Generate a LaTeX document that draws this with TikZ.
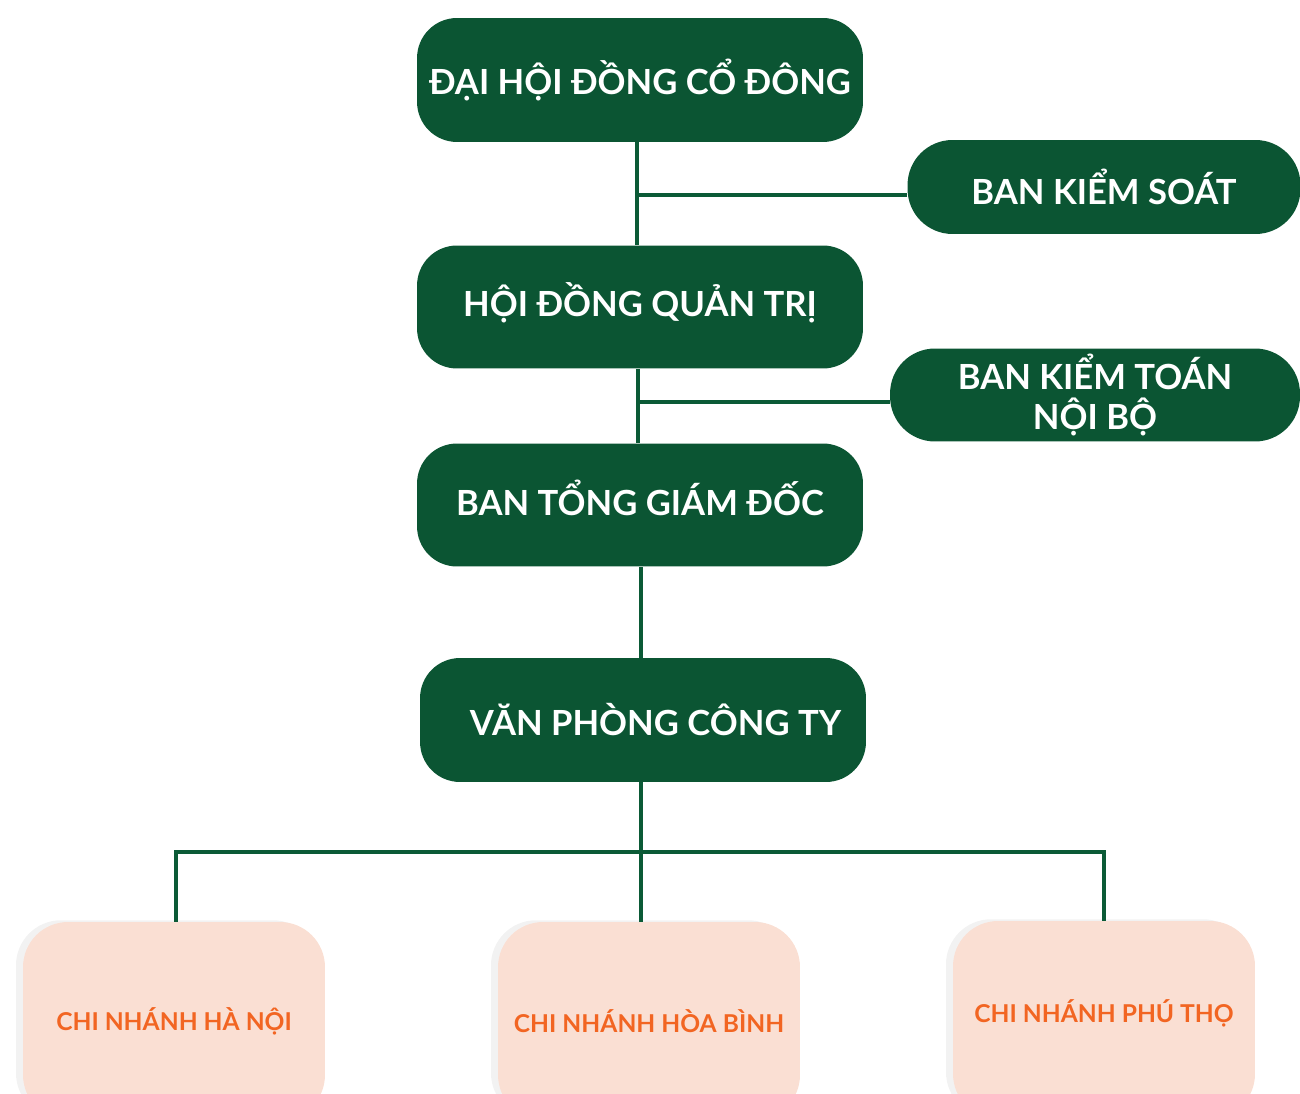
\documentclass[tikz,border=0pt]{standalone}
\usepackage{fontspec}
\setmainfont{Lato}
\usetikzlibrary{shadows}
\definecolor{boardgreen}{HTML}{0B5533}
\definecolor{linegreen}{HTML}{0B5A36}
\definecolor{branchpeach}{HTML}{FADFD3}
\definecolor{branchorange}{HTML}{F26522}

\begin{document}
\begin{tikzpicture}[x=0.02cm, y=-0.02cm,
  board/.style={fill=boardgreen, rounded corners=0.8cm, text=white, align=center,
    inner sep=0pt, font=\bfseries\fontsize{19.7}{23}\selectfont},
  side/.style={board, rounded corners=0.9cm, minimum height=1.88cm},
  branch/.style={fill=branchpeach, rounded corners=0.9cm, text=branchorange,
    minimum width=6.04cm, minimum height=3.96cm, inner sep=0pt,
    font=\bfseries\fontsize{14}{16}\selectfont,
    drop shadow={shadow xshift=-4pt, shadow yshift=1pt, opacity=0.05, fill=black}},
  link/.style={draw=linegreen, line width=2.2pt}]
  \useasboundingbox (0,0) rectangle (1300,1094);

  \node[board, minimum width=8.92cm, minimum height=2.48cm] (dhcd) at (640,80) {ĐẠI HỘI ĐỒNG CỔ ĐÔNG};
  \node[side, minimum width=7.86cm] (bks) at (1104,187) {BAN KIỂM SOÁT};
  \node[board, minimum width=8.92cm, minimum height=2.46cm] (hdqt) at (640,307) {\raisebox{8pt}{HỘI ĐỒNG QUẢN TRỊ}};
  \node[side, minimum width=8.2cm, minimum height=1.86cm] (bktnb) at (1095,395) {BAN KIỂM TOÁN\\NỘI BỘ};
  \node[board, minimum width=8.92cm, minimum height=2.46cm] (btgd) at (640,505) {\raisebox{8pt}{BAN TỔNG GIÁM ĐỐC}};
  \node[board, minimum width=8.92cm, minimum height=2.48cm] (vpct) at (643,720) {\hspace*{0.5cm}VĂN PHÒNG CÔNG TY};

  \node[branch] (cnhn) at (174,1021) {CHI NHÁNH HÀ NỘI};
  \node[branch] (cnhb) at (649,1021) {CHI NHÁNH HÒA BÌNH};
  \node[branch] (cnpt) at (1104,1020) {\raisebox{10pt}{CHI NHÁNH PHÚ THỌ}};

  \coordinate (bus) at (641,852);

  \draw[link] (dhcd.south -| 637,0) -- (hdqt.north -| 637,0);
  \draw[link] (bks.west |- 0,195) -- (637,195);
  \draw[link] (hdqt.south -| 638,0) -- (btgd.north -| 638,0);
  \draw[link] (bktnb.west |- 0,402) -- (638,402);
  \draw[link] (btgd.south -| bus) -- (vpct.north -| bus);
  \draw[link] (vpct.south -| bus) -- (cnhb.north -| bus);
  \draw[link] (cnhn.north -| 176,0) |- (bus) -| (cnpt.north);
\end{tikzpicture}
\end{document}
